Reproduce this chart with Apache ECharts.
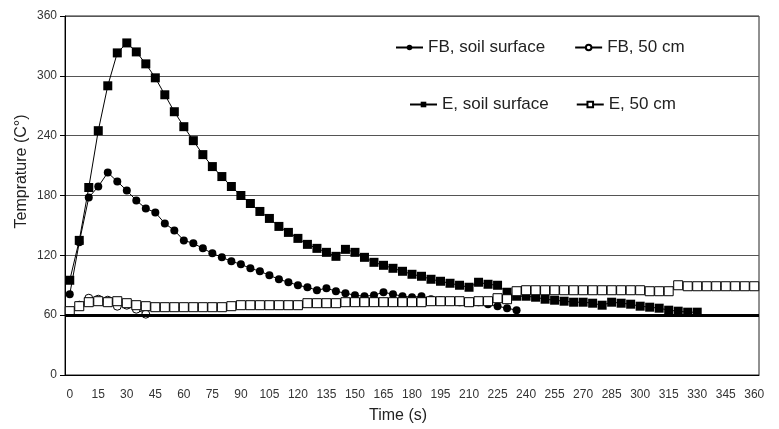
<!DOCTYPE html>
<html lang="en" style="height: 100%">
<head>
    <meta charset="UTF-8">
    <title>Temprature vs time</title>
    <script src="https://cdn.jsdelivr.net/npm/echarts@6/dist/echarts.min.js"></script>
</head>
<body style="height: 100%; margin: 0">
<div id="main" style="width: 779px; height: 429px"></div>
<script>
    // time axis categories (s), one every 5 s
    var times = ['0','5','10','15','20','25','30','35','40','45','50','55','60','65','70','75','80','85','90','95',
        '100','105','110','115','120','125','130','135','140','145','150','155','160','165','170','175','180','185','190','195',
        '200','205','210','215','220','225','230','235','240','245','250','255','260','265','270','275','280','285','290','295',
        '300','305','310','315','320','325','330','335','340','345','350','355','360'];

    var fbSurface = [81, 133, 178, 189, 203, 194, 185, 175, 167, 163,
        152, 145, 135, 132, 127, 122, 118, 114, 111, 107,
        104, 100, 96, 93, 90, 88, 85, 87, 84, 82,
        80, 79, 80, 83, 81, 79, 78, 79, 76, 75,
        74, 73, 73, 73, 71, 69, 67, 65];

    var fb50 = [64, 70, 77, 76, 75, 69, 70, 66, 61];

    var eSurface = [95, 135, 188, 245, 290, 323, 333, 324, 312, 298,
        281, 264, 249, 235, 221, 209, 199, 189, 180, 172,
        164, 157, 149, 143, 137, 131, 127, 123, 119, 126,
        123, 118, 113, 110, 107, 104, 101, 99, 96, 94,
        92, 90, 88, 93, 91, 90, 83, 79, 79, 78,
        76, 75, 74, 73, 73, 72, 70, 73, 72, 71,
        69, 68, 67, 65, 64, 63, 63];

    var e50 = [64, 69, 73, 74, 73, 74, 72, 70, 69, 68,
        68, 68, 68, 68, 68, 68, 68, 69, 70, 70,
        70, 70, 70, 70, 70, 72, 72, 72, 72, 73,
        73, 73, 73, 73, 73, 73, 73, 73, 74, 74,
        74, 74, 73, 74, 74, 77, 76, 84, 85, 85,
        85, 85, 85, 85, 85, 85, 85, 85, 85, 85,
        85, 84, 84, 84, 90, 89, 89, 89, 89, 89,
        89, 89, 89];

    var font = 'Liberation Sans';

    function mkSeries(name, data, symbol, size, open) {
        return {
            name: name,
            type: 'line',
            data: data,
            symbol: symbol,
            symbolSize: size,
            showAllSymbol: true,
            lineStyle: {color: '#000', width: 1},
            itemStyle: open ? {color: '#fff', borderColor: '#000', borderWidth: 1}
                            : {color: '#000', borderColor: '#000', borderWidth: 0}
        };
    }

    var series = [
        mkSeries('FB, soil surface', fbSurface, 'circle', 8, false),
        mkSeries('FB, 50 cm', fb50, 'circle', 8, true),
        mkSeries('E, soil surface', eSurface, 'rect', 9, false),
        mkSeries('E, 50 cm', e50, 'rect', 9, true)
    ];
    // thick reference line at 60
    series[0].markLine = {
        silent: true,
        symbol: 'none',
        label: {show: false},
        lineStyle: {color: '#000', width: 3, type: 'solid'},
        data: [{yAxis: 60}]
    };

    var legendText = {fontSize: 17, color: '#222', fontFamily: font};

    var option = {
        animation: false,
        backgroundColor: '#fff',
        grid: {left: 65, right: 20, top: 16, bottom: 54, show: true, borderColor: '#222', borderWidth: 1},
        legend: [
            {data: ['FB, soil surface', 'FB, 50 cm'], left: 390, top: 34, itemWidth: 27, itemHeight: 7, itemGap: 29, textStyle: legendText},
            {data: ['E, soil surface', 'E, 50 cm'], left: 404, top: 91, itemWidth: 27, itemHeight: 7, itemGap: 27, textStyle: legendText}
        ],
        xAxis: {
            type: 'category',
            data: times,
            boundaryGap: true,
            name: 'Time (s)',
            nameLocation: 'middle',
            nameGap: 33,
            nameMoveOverlap: false,
            nameTextStyle: {fontSize: 16, color: '#222', fontFamily: font, padding: [0, 28, 0, 0]},
            axisLine: {lineStyle: {color: '#000', width: 1}},
            axisTick: {interval: 0, length: 5, lineStyle: {color: '#000'}},
            axisLabel: {interval: 2, fontSize: 12, color: '#333', fontFamily: font, margin: 14},
            splitLine: {show: false}
        },
        yAxis: {
            type: 'value',
            min: 0,
            max: 360,
            interval: 60,
            name: 'Temprature (C°)',
            nameLocation: 'middle',
            nameGap: 35,
            nameMoveOverlap: false,
            nameTextStyle: {fontSize: 16, color: '#222', fontFamily: font, padding: [0, 0, 0, 48]},
            axisLine: {show: true, lineStyle: {color: '#000', width: 1}},
            axisTick: {show: true, length: 5, lineStyle: {color: '#000'}},
            axisLabel: {fontSize: 12, color: '#333', fontFamily: font, margin: 8},
            splitLine: {show: true, lineStyle: {color: '#555', width: 1}}
        },
        series: series
    };

    var myChart = echarts.init(document.getElementById('main'));
    myChart.setOption(option);
</script>
</body>
</html>
